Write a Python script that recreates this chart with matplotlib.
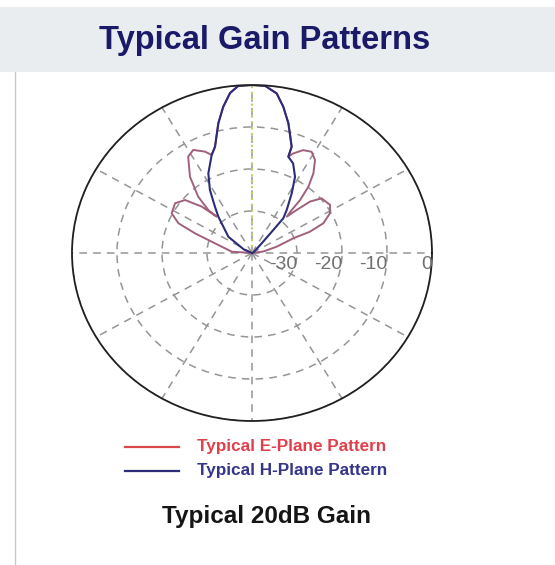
import numpy as np
import matplotlib
matplotlib.use('Agg')
import matplotlib.pyplot as plt
from matplotlib.patches import Rectangle
from matplotlib.lines import Line2D

plt.rcParams['font.family'] = ['Liberation Sans', 'DejaVu Sans']

# pattern data: angle (deg), gain (dB)
e_angle = [0, 8, 15.3, 20.9, 21.5, 24.1, 28.6, 33.4, 40.1, 43.5,
           45.9, 48.2, 49.2, 49.7, 51.6, 54.3, 57.7, 61.2, 65.1, 68.9,
           70.6, 70.8, 75.3, 78.7, 81.8, 85.8, 90, 94.4, 97.3, 100.4,
           103.6, 108, 111, 113.4, 118, 121.7, 127.2, 131.7, 133.5, 132.2,
           135.3, 139.7, 145.3, 152.1, 156.6, 159.7, 164.3, 176, 180]
e_gain = [-40, -37.5, -34.3, -30.2, -26.2, -22.6, -20.3, -19.2, -19.8, -22.2,
          -25.7, -28.4, -26.5, -23.5, -19.8, -16.6, -13.8, -12.5, -13.0, -14.6,
          -15.7, -13.2, -8.1, -4.5, -1.6, -0.1, 0, -0.1, -1.6, -4.6,
          -8.2, -13.4, -15.0, -13.7, -12.2, -13.0, -17.2, -22.0, -25.9, -28.3,
          -24.3, -20.5, -19.2, -19.8, -22.2, -26.5, -31.4, -35.5, -40]

h_angle = [0, 30, 47, 49.2, 49.9, 53, 58.1, 62.2, 66.8, 70.6, 70.8, 75.3, 78.7,
           81.8, 85.8, 90, 94.4, 97.3, 100.4, 103.6, 108, 111, 117.1, 121.9,
           126.7, 130.9, 143.7, 155, 180]
h_gain = [-40, -39.5, -36.7, -32.8, -29.2, -27.2, -23.3, -19.5, -16.8, -15.7,
          -13.2, -8.1, -4.5, -1.6, -0.1, 0, -0.1, -1.6, -4.6, -8.2, -13.4, -15.0,
          -18.7, -22.3, -26.2, -28.6, -33.5, -38, -40]

r_ticks = [-30, -20, -10, 0]
r_labels = ['-30', '-20', '-10', '0']

fig = plt.figure(figsize=(5.55, 5.65), dpi=100)

# header band and left border
fig.add_artist(Rectangle((0, 1 - 72 / 565), 1, 65 / 565, transform=fig.transFigure,
                         facecolor='#e9edf0', edgecolor='none'))
fig.add_artist(Line2D([15 / 555, 15 / 555], [0, 1 - 72 / 565], transform=fig.transFigure,
                      color='#c8c8c8', lw=1))
fig.text(265 / 555, 1 - 41 / 565, 'Typical Gain Patterns', ha='center', va='center',
         fontsize=23.5, fontweight='bold', color='#1a1a68')

ax = fig.add_axes([72 / 555, 1 - 421 / 565, 360 / 555, 336 / 565], projection='polar')
ax.set_aspect('auto')
ax.set_ylim(-40, 0)
ax.set_yticks(r_ticks)
ax.set_yticklabels([])
ax.set_xticks(np.deg2rad(np.arange(0, 360, 30)))
ax.set_xticklabels([])
ax.grid(True, color='#959595', ls=(0, (5, 4)), lw=1.1)
ax.spines['polar'].set_color('#202020')
ax.spines['polar'].set_linewidth(1.3)

for r, lab in zip(r_ticks, r_labels):
    ax.annotate(lab, xy=(0, r), xytext=(0, -2), textcoords='offset points',
                ha='right', va='top', fontsize=14, color='#707070')

ax.plot([np.pi / 2, np.pi / 2], [-40, 0], ls=':', color='#c8cc70', lw=1.6)
ax.plot(np.deg2rad(e_angle), e_gain, color='#a0607e', lw=1.4)
ax.plot(np.deg2rad(h_angle), h_gain, color='#2c2c78', lw=1.5)

# legend drawn by hand as in the picture
fig.add_artist(Line2D([125 / 555, 179 / 555], [1 - 447 / 565] * 2, transform=fig.transFigure,
                      color='#d84848', lw=1.6))
fig.add_artist(Line2D([125 / 555, 179 / 555], [1 - 471 / 565] * 2, transform=fig.transFigure,
                      color='#2c2c78', lw=1.6))
fig.text(197 / 555, 1 - 447 / 565, 'Typical E-Plane Pattern', ha='left', va='center',
         fontsize=12.3, fontweight='bold', color='#e0404c')
fig.text(197 / 555, 1 - 471 / 565, 'Typical H-Plane Pattern', ha='left', va='center',
         fontsize=12.3, fontweight='bold', color='#35358a')
fig.text(266 / 555, 1 - 517 / 565, 'Typical 20dB Gain', ha='center', va='center',
         fontsize=17.5, fontweight='bold', color='#151515')

fig.savefig('out.png', dpi=100)
